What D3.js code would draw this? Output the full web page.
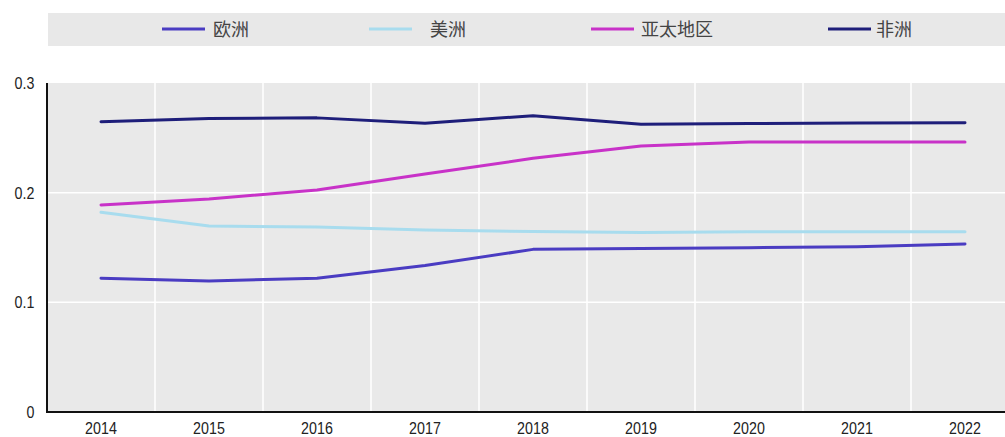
<!DOCTYPE html>
<html><head><meta charset="utf-8">
<script src="https://cdn.jsdelivr.net/npm/d3@7"></script>
<style>
html,body{margin:0;padding:0;background:#fff;}
svg{display:block;font-family:"Liberation Sans",Arial,sans-serif;}
</style></head>
<body><svg id="c" width="1005" height="437"></svg>
<script>
const years = ["2014","2015","2016","2017","2018","2019","2020","2021","2022"];
const seriesNames = ["欧洲","美洲","亚太地区","非洲"];
const europe  = [0.122,0.1195,0.122,0.1335,0.1483,0.1492,0.1498,0.1507,0.1532];
const america = [0.1821,0.1696,0.1687,0.166,0.1646,0.1636,0.1644,0.1644,0.1644];
const asiaPac = [0.1888,0.1942,0.2024,0.217,0.2313,0.2425,0.2462,0.2462,0.2462];
const africa  = [0.2647,0.2676,0.2682,0.2633,0.2702,0.2624,0.2631,0.2635,0.2638];
const yTicks = [0,0.1,0.2,0.3];
const yTickLabels = ["0","0.1","0.2","0.3"];
const colors = ["#4a3cc2","#a8dcee","#c832c8","#1e1e7a"];
const seriesValues = [europe, america, asiaPac, africa];

const svg = d3.select("#c");
const L = 47, R = 1019, T = 83, B = 412;
const tickFont = "'Liberation Sans',Arial,sans-serif";

const x = d3.scaleBand().domain(years).range([L, R]).paddingInner(0).paddingOuter(0);
const y = d3.scaleLinear().domain([0,0.3]).range([B, T]);

// legend band
svg.append("rect").attr("x",48).attr("y",13).attr("width",957).attr("height",33).attr("fill","#e8e8e8");
const legendLineX = [162,369,591,828];
const legendTextX = [213,430,641,876];
seriesNames.forEach((n,i)=>{
  svg.append("line").attr("x1",legendLineX[i]).attr("x2",legendLineX[i]+43)
    .attr("y1",29).attr("y2",29).attr("stroke",colors[i]).attr("stroke-width",3);
  svg.append("text").attr("x",legendTextX[i]).attr("y",36).text(n)
    .attr("font-family","'Noto Sans CJK SC',sans-serif").attr("font-size",18).attr("fill","#444");
});

// plot background
svg.append("rect").attr("x",L).attr("y",T).attr("width",R-L).attr("height",B-T).attr("fill","#e9e9e9");

// gridlines
const g = svg.append("g");
years.slice(1).forEach(yr=>{
  g.append("line").attr("x1",x(yr)).attr("x2",x(yr)).attr("y1",T).attr("y2",B)
    .attr("stroke","#fff").attr("stroke-width",1.5);
});
yTicks.slice(1,3).forEach(t=>{
  g.append("line").attr("x1",L).attr("x2",R).attr("y1",y(t)).attr("y2",y(t))
    .attr("stroke","#fff").attr("stroke-width",1.5);
});

// axes
const yAxis = d3.axisLeft(y).tickValues(yTicks).tickFormat((d,i)=>yTickLabels[i]).tickSize(0).tickPadding(15);
const ya = svg.append("g").attr("transform",`translate(${L},0)`).call(yAxis);
ya.select(".domain").remove();
ya.selectAll("text").attr("font-size",17).attr("fill","#222")
  .attr("font-family",tickFont).attr("transform","scale(0.84,1)");

const xAxis = d3.axisBottom(x).tickSize(0).tickPadding(10);
const xa = svg.append("g").attr("transform",`translate(0,${B})`).call(xAxis);
xa.select(".domain").remove();
xa.selectAll("text").attr("font-size",17).attr("fill","#222")
  .attr("font-family",tickFont).attr("transform","scale(0.84,1)");

svg.append("line").attr("x1",L).attr("x2",L).attr("y1",T).attr("y2",B+1).attr("stroke","#111").attr("stroke-width",2);
svg.append("line").attr("x1",L).attr("x2",R).attr("y1",B).attr("y2",B).attr("stroke","#111").attr("stroke-width",2);

// lines
const line = d3.line().x((d,i)=>x(years[i])+x.bandwidth()/2).y(d=>y(d)).curve(d3.curveLinear);
seriesValues.forEach((vals,i)=>{
  svg.append("path").datum(vals).attr("d",line).attr("fill","none")
    .attr("stroke",colors[i]).attr("stroke-width",3).attr("stroke-linecap","round").attr("stroke-linejoin","round");
});
</script></body></html>
